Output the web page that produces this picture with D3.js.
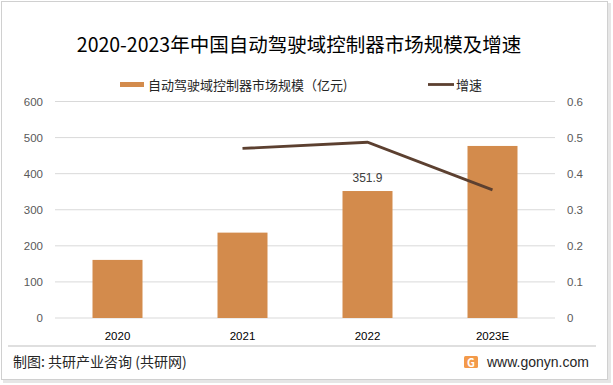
<!DOCTYPE html>
<html>
<head>
<meta charset="utf-8">
<script src="https://cdn.jsdelivr.net/npm/d3@7"></script>
<style>
  body { margin: 0; background: #fff; }
  svg { display: block; font-family: "Noto Sans CJK SC", "Noto Sans", sans-serif; }
</style>
</head>
<body>
<svg id="chart" width="613" height="385"></svg>
<script>
const years = ["2020", "2021", "2022", "2023E"];
const scale = [161.0, 236.6, 351.9, 476.8];
const growth = [null, 0.47, 0.487, 0.355];
const leftTicks = [0, 100, 200, 300, 400, 500, 600];
const rightTicks = [0, 0.1, 0.2, 0.3, 0.4, 0.5, 0.6];

const BAR = "#d38b4c";
const LINE = "#5c4030";

const svg = d3.select("#chart");

// outer frame + shadow
svg.append("rect")
  .attr("x", 3).attr("y", 3)
  .attr("width", 608).attr("height", 380)
  .attr("fill", "#e6e6e6");
svg.append("rect")
  .attr("x", 1.5).attr("y", 1.5)
  .attr("width", 606).attr("height", 378)
  .attr("fill", "#fff")
  .attr("stroke", "#d0d0d0");

const x = d3.scaleBand().domain(years).range([55, 555]).paddingInner(0.6).paddingOuter(0.3);
const y = d3.scaleLinear().domain([0, 600]).range([318, 101.5]);
const y2 = d3.scaleLinear().domain([0, 0.6]).range([318, 101.5]);

// grid
svg.append("g")
  .selectAll("line")
  .data(leftTicks)
  .enter().append("line")
  .attr("x1", 55).attr("x2", 555)
  .attr("y1", d => y(d)).attr("y2", d => y(d))
  .attr("stroke", "#d9d9d9")
  .attr("stroke-width", 1);

// left axis
const gl = svg.append("g")
  .attr("transform", "translate(55,0)")
  .call(d3.axisLeft(y).tickValues(leftTicks).tickSize(0).tickPadding(12));
gl.select(".domain").remove();
gl.selectAll("text")
  .attr("fill", "#595959")
  .style("font-family", "'Liberation Sans', sans-serif")
  .style("font-size", "11.5px");

// right axis
const gr = svg.append("g")
  .attr("transform", "translate(555,0)")
  .call(d3.axisRight(y2).tickValues(rightTicks).tickSize(0).tickPadding(12)
    .tickFormat(d => d === 0 ? "0" : d3.format(".1f")(d)));
gr.select(".domain").remove();
gr.selectAll("text")
  .attr("fill", "#595959")
  .style("font-family", "'Liberation Sans', sans-serif")
  .style("font-size", "11.5px");

// bars
svg.append("g")
  .selectAll("rect")
  .data(years)
  .enter().append("rect")
  .attr("x", d => x(d))
  .attr("y", (d, i) => y(scale[i]))
  .attr("width", x.bandwidth())
  .attr("height", (d, i) => y(0) - y(scale[i]))
  .attr("fill", BAR);

// value label on 2022 only
svg.append("text")
  .attr("x", x("2022") + x.bandwidth() / 2)
  .attr("y", y(scale[2]) - 9)
  .attr("text-anchor", "middle")
  .attr("fill", "#404040")
  .style("font-family", "'Liberation Sans', sans-serif")
  .style("font-size", "12px")
  .text(scale[2]);

// growth line
const lineData = years.map((d, i) => ({ year: d, v: growth[i] })).filter(d => d.v !== null);
svg.append("path")
  .datum(lineData)
  .attr("fill", "none")
  .attr("stroke", LINE)
  .attr("stroke-width", 2.8)
  .attr("d", d3.line()
    .x(d => x(d.year) + x.bandwidth() / 2)
    .y(d => y2(d.v)));

// x labels
const gx = svg.append("g")
  .attr("transform", "translate(0,318)")
  .call(d3.axisBottom(x).tickSize(0).tickPadding(14));
gx.select(".domain").remove();
gx.selectAll("text")
  .attr("fill", "#000")
  .style("font-family", "'Liberation Sans', sans-serif")
  .style("font-size", "11.5px");

// title
svg.append("text")
  .attr("x", 299).attr("y", 52)
  .attr("text-anchor", "middle")
  .attr("fill", "#000")
  .style("font-size", "19.5px")
  .text("2020-2023年中国自动驾驶域控制器市场规模及增速");

// legend
const lg = svg.append("g").style("font-size", "13px");
lg.append("rect").attr("x", 120).attr("y", 82).attr("width", 24).attr("height", 5).attr("fill", BAR);
lg.append("text").attr("x", 148).attr("y", 89.5).attr("fill", "#262626").text("自动驾驶域控制器市场规模（亿元)");
lg.append("line").attr("x1", 428).attr("x2", 454).attr("y1", 84.5).attr("y2", 84.5).attr("stroke", LINE).attr("stroke-width", 2.8);
lg.append("text").attr("x", 456).attr("y", 89.5).attr("fill", "#262626").text("增速");

// footer
svg.append("line")
  .attr("x1", 8).attr("x2", 596)
  .attr("y1", 346).attr("y2", 346)
  .attr("stroke", "#bfbfbf");

svg.append("text")
  .attr("x", 13).attr("y", 367)
  .attr("fill", "#262626")
  .style("font-size", "14px")
  .text("制图: 共研产业咨询 (共研网)");

const logo = svg.append("g").attr("transform", "translate(464,356)");
logo.append("rect").attr("width", 14).attr("height", 12).attr("rx", 1.5).attr("fill", "#f39a4a");
logo.append("text").attr("x", 7).attr("y", 10.5).attr("text-anchor", "middle")
  .attr("fill", "#fff").style("font-size", "11px").style("font-weight", "bold").text("G");

svg.append("text")
  .attr("x", 487).attr("y", 367)
  .attr("fill", "#262626")
  .style("font-family", "'Liberation Sans', sans-serif")
  .style("font-size", "14px")
  .text("www.gonyn.com");
</script>
</body>
</html>
